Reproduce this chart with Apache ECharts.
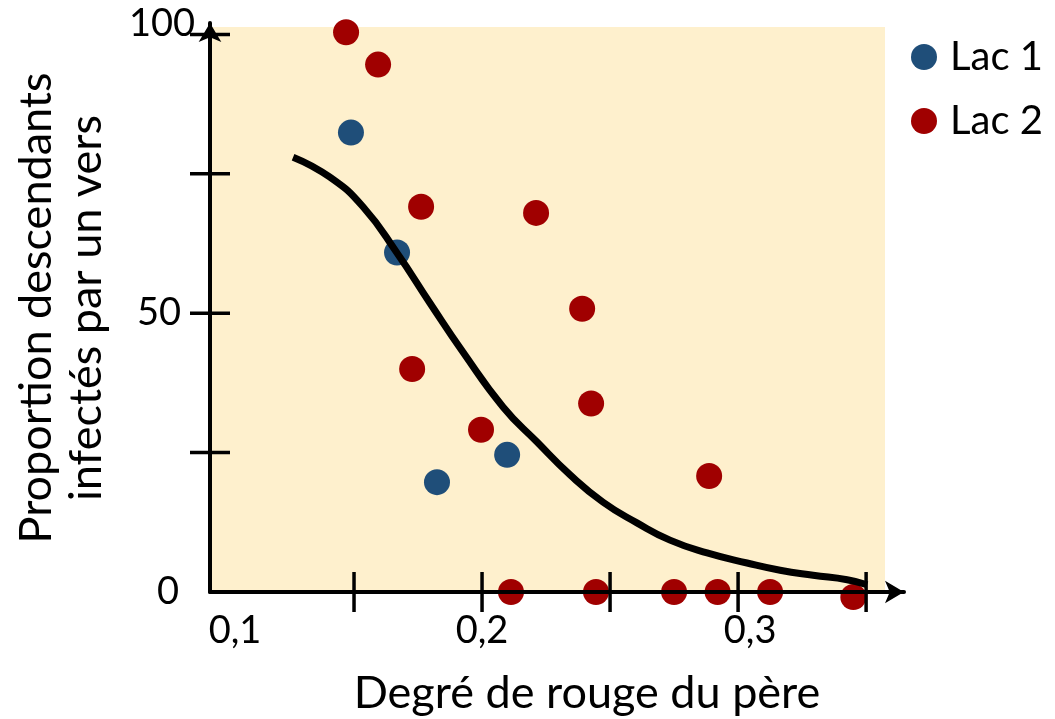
<!DOCTYPE html>
<html>
<head>
<meta charset="utf-8">
<script src="https://cdn.jsdelivr.net/npm/echarts@6/dist/echarts.min.js"></script>
<style>html,body{margin:0;padding:0;background:#fff}#c{width:1055px;height:719px}</style>
</head>
<body>
<div id="c"></div>
<script>
// ---- data ----
var lac1 = [[0.1488, 82.4], [0.1668, 60.9], [0.2098, 24.6], [0.1824, 19.7]];
var lac2 = [[0.1469, 100.4], [0.1594, 94.6], [0.1762, 69.1], [0.2211, 68.0], [0.2391, 50.8],
            [0.1727, 40.0], [0.2426, 33.8], [0.1996, 29.1], [0.2887, 20.8],
            [0.2113, 0], [0.2445, 0], [0.2750, 0], [0.2920, 0], [0.3125, 0], [0.3450, -0.9]];
var curve = [[0.1262, 78.0], [0.1406, 74.4], [0.1535, 69.1], [0.1668, 60.8], [0.1797, 51.8],
             [0.1926, 43.0], [0.2082, 33.2], [0.2215, 26.9], [0.2344, 21.0], [0.2473, 16.1],
             [0.2605, 12.4], [0.2734, 9.3], [0.2879, 7.0], [0.3035, 5.2], [0.3164, 3.9],
             [0.3293, 3.0], [0.3426, 2.2], [0.3504, 1.3]];
var xTicks = [0.15, 0.2, 0.25, 0.3, 0.35];
var xLabels = [0.1, 0.2, 0.3];
var yTicks = [25, 50, 75, 100];
var yLabels = [0, 50, 100];
var xTitle = 'Degré de rouge du père';
var yTitle = ['Proportion descendants', 'infectés par un vers'];
var legendNames = ['Lac 1', 'Lac 2'];

var FONT = 'Lato';
var xMin = 0.09375, xMax = 0.3648, yMin = 0, yMax = 102.06;
var TICK_HALF = 20;

var chart = echarts.init(document.getElementById('c'), null, {renderer: 'canvas'});
function fmtX(v) {
  var s = String(Math.round(v * 10) / 10).replace('.', ',');
  if (Math.abs(v - 0.1) < 1e-6) return '{a|' + s + '}';
  if (Math.abs(v - 0.3) < 1e-6) return '{c|' + s + '}';
  return '{b|' + s + '}';
}
var numStyle = {fontFamily: FONT, fontSize: 38, color: '#000'};

// crossing tick marks, positioned through the axis scales
var tickData = xTicks.map(function (v) { return [v, yMin, 0]; })
  .concat(yTicks.map(function (v) { return [xMin, v, 1]; }));
function renderTick(params, api) {
  var p = api.coord([api.value(0), api.value(1)]);
  var vertical = api.value(2) === 0;
  var shape = vertical
    ? {x1: p[0], y1: p[1] - TICK_HALF, x2: p[0], y2: p[1] + TICK_HALF}
    : {x1: p[0] - TICK_HALF, y1: p[1], x2: p[0] + TICK_HALF, y2: p[1]};
  return {type: 'line', shape: shape, z2: 100, style: {stroke: '#000', lineWidth: 3.5, opacity: 1}};
}

var option = {
  animation: false,
  backgroundColor: '#fff',
  textStyle: {fontFamily: FONT},
  grid: [
    {left: 210, right: 151, top: 23, bottom: 127, containLabel: false},
    // pale panel behind the plot
    {left: 210, right: 170, top: 27, bottom: 127, show: true, backgroundColor: '#fef0cd', borderWidth: 0, z: -5}
  ],
  legend: {
    data: legendNames, orient: 'vertical', left: 906, top: 32,
    icon: 'circle', itemWidth: 26, itemHeight: 26, itemGap: 24,
    textStyle: {fontFamily: FONT, fontSize: 40, color: '#000', padding: [0, 0, 0, 8]}
  },
  xAxis: [{
    type: 'value', min: xMin, max: xMax, position: 'bottom', z: 10, gridIndex: 0,
    axisLine: {show: true, onZero: false, lineStyle: {color: '#000', width: 4}, symbol: ['none', 'arrow'], symbolSize: [17, 19]},
    axisTick: {show: false},
    axisLabel: {show: true, customValues: xLabels, formatter: fmtX, margin: 20,
      rich: {
        a: Object.assign({padding: [0, 0, 0, 18]}, numStyle),
        b: Object.assign({}, numStyle),
        c: Object.assign({padding: [0, 0, 0, 24]}, numStyle)
      }},
    splitLine: {show: false}
  }, {
    type: 'value', gridIndex: 1, show: false, min: 0, max: 1, splitLine: {show: false}
  }],
  yAxis: [{
    type: 'value', min: yMin, max: yMax, position: 'left', z: 10, gridIndex: 0,
    axisLine: {show: true, onZero: false, lineStyle: {color: '#000', width: 4}, symbol: ['none', 'arrow'], symbolSize: [17, 19]},
    axisTick: {show: false},
    axisLabel: {show: true, customValues: yLabels, margin: 15,
      formatter: function (v) { return v === 100 ? '{t|100}' : (v === 0 ? '{z|0}' : '{m|' + v + '}'); },
      rich: {
        t: Object.assign({padding: [0, 0, 22, 0]}, numStyle),
        m: Object.assign({padding: [0, 14, 0, 0]}, numStyle),
        z: Object.assign({padding: [0, 16, 0, 0]}, numStyle)
      }},
    splitLine: {show: false}
  }, {
    type: 'value', gridIndex: 1, show: false, min: 0, max: 1, splitLine: {show: false}
  }],
  graphic: [
    {type: 'text', x: 587, y: 693, style: {text: xTitle, fontFamily: FONT, fontSize: 45, fill: '#000',
      align: 'center', verticalAlign: 'middle'}},
    {type: 'text', rotation: Math.PI / 2, x: 61, y: 308,
      style: {text: yTitle.join('\n'), fontFamily: FONT, fontSize: 45, lineHeight: 50, fill: '#000',
        align: 'center', verticalAlign: 'middle'}}
  ],
  series: [
    {name: 'ticks', type: 'custom', data: tickData, renderItem: renderTick, clip: false, silent: true, z: 20},
    {name: 'Lac 1', type: 'scatter', data: lac1, symbolSize: 26, clip: false, itemStyle: {color: '#1f4e79', opacity: 1}, z: 3},
    {name: 'Lac 2', type: 'scatter', data: lac2, symbolSize: 26, clip: false, itemStyle: {color: '#a00000', opacity: 1}, z: 3},
    {name: 'curve', type: 'line', data: curve, smooth: 0.5, showSymbol: false, symbol: 'none',
      lineStyle: {color: '#000', width: 7}, z: 4, silent: true, clip: false}
  ]
};
chart.setOption(option);
</script>
</body>
</html>
